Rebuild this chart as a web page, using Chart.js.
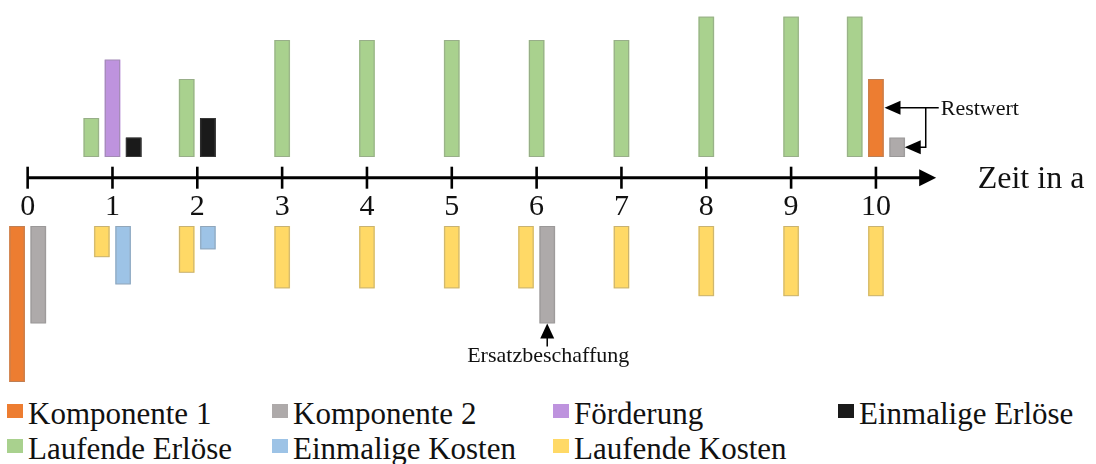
<!DOCTYPE html>
<html><head><meta charset="utf-8">
<script src="https://cdn.jsdelivr.net/npm/chart.js@4/dist/chart.umd.min.js"></script>
<style>
html,body{margin:0;padding:0;background:#fff;}
#wrap{position:relative;width:1096px;height:464px;overflow:hidden;background:#fff;}
#c{position:absolute;left:0;top:0;}
#legend{position:absolute;left:7px;top:396px;display:grid;grid-template-columns:265px 281px 285px 255px;grid-auto-rows:35px;font-family:"Liberation Serif",serif;font-size:31px;line-height:35px;color:#111;}
.item{white-space:nowrap;}
.sw{display:inline-block;width:16px;height:14px;vertical-align:6px;margin-right:5px;}
</style></head><body>
<div id="wrap"><canvas id="c" width="1096" height="392"></canvas><div id="legend"></div></div>
<script>
// ---- data ----
const years = [0,1,2,3,4,5,6,7,8,9,10];
const tickLabels = ['0','1','2','3','4','5','6','7','8','9','10'];
// inflows (above the time axis)
const laufendeErloese  = [null, 1.0, 2.0, 3.0, 3.0, 3.0, 3.0, 3.0, 3.6, 3.6, 3.6];
const foerderung       = [null, 2.5, null, null, null, null, null, null, null, null, null];
const einmaligeErloese = [null, 0.5, 1.0, null, null, null, null, null, null, null, null];
const restwertK1       = [null, null, null, null, null, null, null, null, null, null, 2.0];
const restwertK2       = [null, null, null, null, null, null, null, null, null, null, 0.5];
// outflows (below the time axis)
const komponente1      = [-4.0, null, null, null, null, null, null, null, null, null, null];
const komponente2      = [-2.5, null, null, null, null, null, -2.5, null, null, null, null];
const laufendeKosten   = [null, -0.8, -1.2, -1.6, -1.6, -1.6, -1.6, -1.6, -1.8, -1.8, -1.8];
const einmaligeKosten  = [null, -1.5, -0.6, null, null, null, null, null, null, null, null];
const legendOrder = ['Komponente 1','Komponente 2','Förderung','Einmalige Erlöse','Laufende Erlöse','Einmalige Kosten','Laufende Kosten'];
const axisTitle = 'Zeit in a';
const restwertLabel = 'Restwert';
const ersatzLabel = 'Ersatzbeschaffung';

// ---- styles / layout ----
const COL = {orange:'#ED7D31', gray:'#AEAAAA', purple:'#BE93DE', black:'#1A1A1A', green:'#A9D18E', blue:'#9DC3E6', yellow:'#FFD966'};
const SERIF = '"Liberation Serif", "Times New Roman", serif';
const AXIS_POS = 0.7;      // value on the helper scale where the time axis sits
const ARROW_END = 10.71;   // x value of the arrow tip
const TITLE_X = 11.2;
const SLOT = 0.25;         // spacing of side-by-side bars within one year (x units)

// side-by-side placement within a year, like grouped bars that skip empty entries
function place(side) {
  return side.map(vals => vals.map((v, i) => {
    if (v == null) return null;
    const present = side.filter(a => a[i] != null);
    const k = present.indexOf(vals);
    return {x: years[i] + (k - (present.length - 1) / 2) * SLOT, y: v};
  }).filter(p => p));
}
const topSide = [laufendeErloese, foerderung, einmaligeErloese, restwertK1, restwertK2];
const botSide = [komponente1, laufendeKosten, komponente2, einmaligeKosten];
const [pLE, pF, pEE, pR1, pR2] = place(topSide);
const [pK1, pLK, pK2, pEK] = place(botSide);

function ds(label, data, color, top) {
  return {
    label, data, backgroundColor: color,
    borderColor: 'rgba(0,0,0,0)', borderWidth: {left: 3, right: 3, top: 0, bottom: 0}, borderSkipped: false,
    yAxisID: top ? 'yT' : 'yB', barThickness: 21.2, grouped: false
  };
}

const datasets = [
  ds('Laufende Erlöse', pLE, COL.green, true),
  ds('Förderung', pF, COL.purple, true),
  ds('Einmalige Erlöse', pEE, COL.black, true),
  ds('Komponente 1', pR1, COL.orange, true),
  ds('Komponente 2', pR2, COL.gray, true),
  ds('Komponente 1', pK1, COL.orange, false),
  ds('Laufende Kosten', pLK, COL.yellow, false),
  ds('Komponente 2', pK2, COL.gray, false),
  ds('Einmalige Kosten', pEK, COL.blue, false)
];

const outlinePlugin = {
  id: 'barOutline',
  afterDatasetsDraw(chart) {
    const ctx = chart.ctx;
    ctx.save();
    ctx.lineWidth = 1;
    chart.data.datasets.forEach((d, i) => {
      const meta = chart.getDatasetMeta(i);
      ctx.strokeStyle = d.backgroundColor === COL.black ? 'rgba(60,60,60,0.9)' : 'rgba(130,130,130,0.45)';
      meta.data.forEach(el => {
        const p = el.getProps(['x','y','base','width'], true);
        const l = p.x - p.width / 2 + 3, r = p.x + p.width / 2 - 3;
        const t = Math.min(p.y, p.base), b = Math.max(p.y, p.base);
        ctx.strokeRect(l + 0.5, t + 0.5, r - l - 1, b - t - 1);
      });
    });
    ctx.restore();
  }
};

const axisPlugin = {
  id: 'timeAxis',
  afterDraw(chart) {
    const ctx = chart.ctx;
    const xs = chart.scales.x, ym = chart.scales.yM;
    const y = ym.getPixelForValue(AXIS_POS);
    const x0 = xs.getPixelForValue(years[0]);
    const xe = xs.getPixelForValue(ARROW_END);
    ctx.save();
    ctx.strokeStyle = '#000'; ctx.fillStyle = '#000';
    ctx.lineWidth = 3;
    ctx.beginPath(); ctx.moveTo(x0, y); ctx.lineTo(xe - 12, y); ctx.stroke();
    ctx.lineWidth = 2.6;
    years.forEach(v => {
      const px = xs.getPixelForValue(v);
      ctx.beginPath(); ctx.moveTo(px, y - 11); ctx.lineTo(px, y + 11); ctx.stroke();
    });
    ctx.beginPath(); ctx.moveTo(xe, y); ctx.lineTo(xe - 17, y - 8.5); ctx.lineTo(xe - 17, y + 8.5); ctx.closePath(); ctx.fill();
    ctx.font = '32px ' + SERIF; ctx.textBaseline = 'alphabetic'; ctx.textAlign = 'left';
    ctx.fillStyle = '#111';
    ctx.fillText(axisTitle, xs.getPixelForValue(TITLE_X), y + 10.6);

    // Restwert annotation
    const o = chart.getDatasetMeta(3).data[0].getProps(['x','y','base','width'], true);
    const g = chart.getDatasetMeta(4).data[0].getProps(['x','y','base','width'], true);
    const oR = o.x + o.width / 2 - 3 + 1, gR = g.x + g.width / 2 - 3;
    const yo = o.y + (o.base - o.y) * 0.37, yg = (g.y + g.base) / 2;
    const vx = gR + 21, tx = gR + 36;
    ctx.fillStyle = '#000'; ctx.strokeStyle = '#000'; ctx.lineWidth = 1.5;
    ctx.beginPath(); ctx.moveTo(oR + 14, yo); ctx.lineTo(tx - 2, yo); ctx.stroke();
    ctx.beginPath(); ctx.moveTo(vx, yo); ctx.lineTo(vx, yg); ctx.lineTo(gR + 14, yg); ctx.stroke();
    const head = (tipX, tipY) => { ctx.beginPath(); ctx.moveTo(tipX, tipY); ctx.lineTo(tipX + 16, tipY - 7); ctx.lineTo(tipX + 16, tipY + 7); ctx.closePath(); ctx.fill(); };
    head(oR, yo); head(gR, yg);
    ctx.font = '22px ' + SERIF; ctx.fillStyle = '#111'; ctx.textAlign = 'left';
    ctx.fillText(restwertLabel, tx, yo + 7);

    // Ersatzbeschaffung annotation (replacement of Komponente 2 in year 6)
    const k2 = chart.data.datasets[7];
    const e = chart.getDatasetMeta(7).data[k2.data.findIndex(p => Math.round(p.x) === 6)].getProps(['x','y','base','width'], true);
    ctx.fillStyle = '#000';
    ctx.beginPath(); ctx.moveTo(e.x, e.y); ctx.lineTo(e.x - 7, e.y + 15); ctx.lineTo(e.x + 7, e.y + 15); ctx.closePath(); ctx.fill();
    ctx.beginPath(); ctx.moveTo(e.x, e.y + 14); ctx.lineTo(e.x, e.y + 23); ctx.stroke();
    ctx.fillStyle = '#111'; ctx.textAlign = 'center';
    ctx.fillText(ersatzLabel, e.x + 1, e.y + 38.5);
    ctx.restore();
  }
};

const chart = new Chart(document.getElementById('c'), {
  type: 'bar',
  data: { datasets },
  options: {
    responsive: false, animation: false, devicePixelRatio: 1,
    layout: { padding: { left: 0.5, right: 8, top: 4.9, bottom: 6.1 } },
    plugins: { legend: { display: false }, tooltip: { enabled: false } },
    scales: {
      x: {
        type: 'linear', min: -0.32, max: 12.5, offset: false, position: { yM: AXIS_POS },
        grid: { display: false, drawTicks: false }, border: { display: false },
        afterBuildTicks: (scale) => { scale.ticks = years.map(v => ({ value: v })); },
        ticks: {
          autoSkip: false, maxRotation: 0, minRotation: 0, padding: 11, color: '#111',
          font: { family: SERIF, size: 30 },
          callback: (v) => tickLabels[years.indexOf(v)]
        }
      },
      yT: { type: 'linear', min: 0, max: 3.9, display: false, position: 'right', stack: 'v', stackWeight: 3.9 },
      yM: { type: 'linear', min: 0, max: 1, display: false, position: 'right', stack: 'v', stackWeight: 1.769 },
      yB: { type: 'linear', min: -4.1, max: 0, display: false, position: 'right', stack: 'v', stackWeight: 4.1 }
    }
  },
  plugins: [outlinePlugin, axisPlugin]
});

// HTML legend built from the chart's datasets
const leg = document.getElementById('legend');
legendOrder.forEach(name => {
  const d = chart.data.datasets.find(s => s.label === name);
  const item = document.createElement('div'); item.className = 'item';
  const sw = document.createElement('span'); sw.className = 'sw'; sw.style.background = d.backgroundColor;
  item.appendChild(sw); item.appendChild(document.createTextNode(name));
  leg.appendChild(item);
});
</script>
</body></html>
